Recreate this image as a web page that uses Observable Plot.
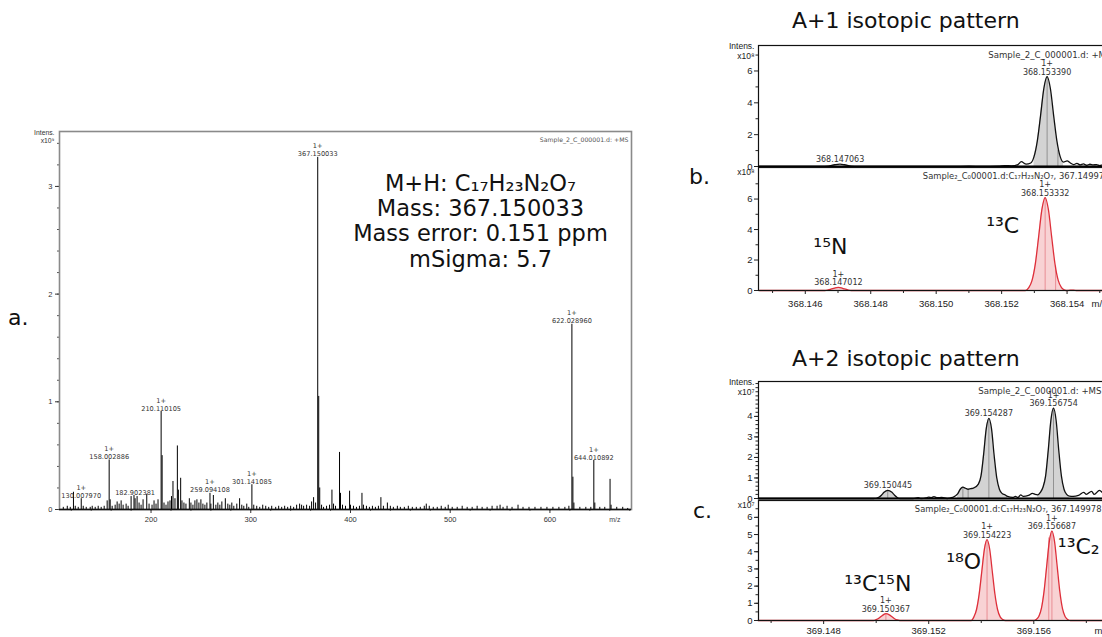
<!DOCTYPE html>
<html><head><meta charset="utf-8">
<script src="https://cdn.jsdelivr.net/npm/d3@7"></script>
<script src="https://cdn.jsdelivr.net/npm/@observablehq/plot@0.6"></script>
<style>
html,body{margin:0;padding:0;background:#fff;}
#root{position:relative;width:1102px;height:637px;overflow:hidden;}
.lbl{position:absolute;font-family:"DejaVu Sans",Verdana,sans-serif;color:#111;white-space:nowrap;line-height:1;}
</style></head><body><div id="root"></div>
<script>
// ---------- DATA ----------
// Panel a: full MS spectrum, [m/z, intensity x1e9]
const mainPeaks = [
[112,0.02],[116,0.03],[119,0.02],[122.2,0.16],[124,0.03],[127,0.02],[130.01,0.10],[132,0.03],[135,0.02],[139,0.02],[141,0.03],[144,0.02],[147,0.03],[150,0.02],[153,0.03],[156,0.08],[158.0,0.46],[159,0.09],[161,0.03],[164,0.04],[166,0.07],[168,0.05],[170,0.08],[172,0.04],[175,0.05],[177,0.03],[180,0.12],[182.9,0.13],[184,0.10],[186,0.12],[188,0.06],[190,0.04],[192,0.09],[195.7,0.14],[198,0.05],[201,0.04],[203,0.08],[205,0.05],[207,0.09],[210.11,0.91],[211.11,0.50],[213,0.06],[215,0.04],[217,0.07],[219,0.08],[220.5,0.12],[222,0.26],[224,0.10],[226.4,0.59],[227.4,0.18],[229.7,0.29],[231,0.08],[233,0.06],[235,0.05],[238.4,0.10],[240,0.06],[242,0.04],[244,0.08],[246,0.09],[248,0.06],[250,0.09],[252,0.05],[254,0.04],[256,0.06],[259.09,0.15],[260,0.05],[262.5,0.13],[265,0.04],[267,0.06],[269,0.04],[271,0.07],[274.5,0.10],[277,0.05],[279,0.04],[281,0.06],[283,0.03],[286,0.05],[288.8,0.10],[291,0.04],[293,0.03],[296,0.05],[298,0.02],[301.14,0.23],[303,0.04],[306,0.03],[309,0.02],[312,0.04],[315,0.03],[318,0.02],[321,0.03],[325,0.02],[328,0.03],[331,0.02],[334,0.03],[337,0.02],[340,0.03],[343,0.02],[346,0.04],[349,0.05],[351,0.04],[353,0.03],[356,0.04],[359,0.03],[361,0.07],[363,0.11],[365,0.06],[367.15,3.27],[368.15,1.05],[369.15,0.20],[371,0.04],[373,0.02],[376,0.03],[379,0.04],[381.4,0.18],[383,0.05],[385,0.03],[389.0,0.53],[390,0.15],[392,0.04],[395,0.03],[399.1,0.17],[400,0.04],[403,0.03],[406,0.02],[409,0.03],[411.5,0.15],[413,0.04],[416,0.03],[419,0.02],[422,0.03],[425,0.02],[428,0.03],[430.5,0.11],[433,0.03],[437,0.06],[440,0.03],[443,0.02],[447,0.03],[450,0.02],[454,0.02],[458,0.03],[462,0.02],[466,0.02],[470,0.02],[474,0.03],[476,0.05],[479,0.03],[483,0.02],[487,0.02],[491,0.03],[495,0.02],[498,0.04],[502,0.02],[507,0.02],[512,0.03],[517,0.02],[522,0.02],[527,0.03],[532,0.02],[537,0.02],[542,0.03],[547,0.03],[550,0.04],[553,0.02],[557,0.03],[562,0.02],[568,0.04],[573,0.02],[579,0.02],[585,0.02],[591,0.02],[597,0.02],[603,0.02],[609,0.02],[615,0.02],[619,0.03],[622.03,1.72],[623.03,0.30],[624.03,0.06],[630,0.02],[636,0.02],[641,0.02],[644.01,0.455],[645.01,0.06],[650,0.02],[655,0.02],[660.3,0.28],[661.3,0.04],[667,0.02],[673,0.02],[678,0.01]
];
// labelled peaks: [m/z, intensity, charge, label]
const mainLabels = [
[130.01,0.10,"1+","130.007970"],[158.0,0.46,"1+","158.002886"],[184.0,0.13,"","182.902381"],
[210.11,0.91,"1+","210.110105"],[259.09,0.15,"1+","259.094108"],[301.14,0.23,"1+","301.141085"],
[367.15,3.27,"1+","367.150033"],[622.03,1.72,"1+","622.028960"],[644.01,0.455,"1+","644.010892"]
];
const mainXTicks = [200,300,400,500,600];
const mainYTicks = [0,1,2,3];
const mainAnnotation = ["M+H: C₁₇H₂₃N₂O₇","Mass: 367.150033","Mass error: 0.151 ppm","mSigma: 5.7"];

// Panel b (A+1): measured (black) and simulated (red) profiles, intensity x1e8
const bTopTrace = [
[368.1446,0],[368.1465,0],[368.1467,0.03],[368.1469,0.11],[368.14706,0.15],[368.1472,0.11],[368.1474,0.03],[368.1476,0],[368.1505,0],[368.1510,0.02],[368.1514,0],[368.1519,0.02],[368.1521,0.06],[368.1523,0.04],[368.1525,0.12],[368.1526,0.3],[368.15275,0.15],[368.15289,0.22],[368.15299,0.62],[368.15309,1.6],[368.15319,3.2],[368.15329,4.9],[368.15339,5.65],[368.15349,4.9],[368.15359,3.2],[368.15369,1.6],[368.15379,0.62],[368.15389,0.28],[368.1540,0.35],[368.1541,0.22],[368.1542,0.12],[368.1543,0.2],[368.1544,0.1],[368.1545,0.16],[368.1546,0.08],[368.1547,0.14],[368.1548,0.1],[368.1549,0.12],[368.1550,0.06],[368.1551,0.1],[368.1553,0.05],[368.1555,0.08]
];
const bTopFill = [[368.1529,368.1539]];
const bTopLines = [[368.15339,5.65],[368.15372,1.0]];
const bBotTrace = [
[368.1446,0],[368.1466,0],[368.1467,0.04],[368.1468,0.1],[368.1469,0.16],[368.14701,0.2],[368.1471,0.17],[368.1472,0.1],[368.1473,0.04],[368.1474,0],[368.15273,0],[368.15283,0.19],[368.15293,0.66],[368.15303,1.75],[368.15313,3.5],[368.15323,5.3],[368.15333,6.1],[368.15343,5.3],[368.15353,3.5],[368.15363,1.75],[368.15373,0.66],[368.15383,0.19],[368.15393,0.03],[368.1540,0],[368.1541,0.03],[368.1542,0.03],[368.1543,0],[368.1556,0]
];
const bBotLines = [[368.15333,6.1],[368.15365,1.6]];
const bXTicks = [368.146,368.148,368.150,368.152,368.154];
const bYTicks = [0,2,4,6];

// Panel c (A+2): intensity x1e7
const cTopTrace = [
[369.1455,0],[369.1499,0],[369.1501,0.06],[369.1502,0.16],[369.1503,0.3],[369.15044,0.4],[369.1506,0.3],[369.1507,0.16],[369.1508,0.05],[369.1509,0],[369.1514,0],[369.1516,0.04],[369.1517,0],[369.1519,0.03],[369.1520,0.07],[369.1521,0.04],[369.1522,0.09],[369.1523,0.04],[369.1525,0.05],[369.1527,0],[369.1529,0.05],[369.1531,0.22],[369.1532,0.45],[369.1533,0.55],[369.1534,0.5],[369.1535,0.45],[369.1536,0.48],[369.1537,0.5],[369.15389,0.7],[369.15399,1.1],[369.15409,2.15],[369.15419,3.4],[369.15429,3.9],[369.15439,3.4],[369.15449,2.1],[369.15459,1.0],[369.15469,0.45],[369.15479,0.25],[369.1549,0.18],[369.1550,0.1],[369.1552,0.05],[369.1553,0.1],[369.1554,0.05],[369.1555,0.18],[369.1556,0.1],[369.1558,0.15],[369.15595,0.25],[369.15605,0.2],[369.15615,0.18],[369.15625,0.3],[369.15635,0.55],[369.15645,1.1],[369.15655,2.35],[369.15665,3.8],[369.15675,4.4],[369.15685,3.8],[369.15695,2.35],[369.15705,1.1],[369.15715,0.45],[369.15725,0.2],[369.15735,0.12],[369.1575,0.1],[369.1577,0.15],[369.1579,0.3],[369.1580,0.2],[369.1582,0.35],[369.1583,0.2],[369.1585,0.4],[369.1587,0.2],[369.1589,0.3],[369.1591,0.2]
];
const cTopFill = [[369.1500,369.1509],[369.1530,369.1550],[369.1561,369.1574]];
const cTopLines = [[369.15044,0.4],[369.1533,0.55],[369.1535,0.45],[369.15429,3.9],[369.15675,4.4]];
const cBotTrace = [
[369.1455,0],[369.1499,0],[369.1500,0.05],[369.1501,0.13],[369.1502,0.25],[369.1503,0.36],[369.15037,0.4],[369.1505,0.33],[369.1506,0.22],[369.1507,0.1],[369.1508,0.03],[369.1509,0],[369.15362,0],[369.15372,0.21],[369.15382,0.64],[369.15392,1.53],[369.15402,2.85],[369.15412,4.15],[369.15422,4.7],[369.15432,4.15],[369.15442,2.85],[369.15452,1.53],[369.15462,0.64],[369.15472,0.21],[369.15482,0.05],[369.15492,0],[369.15599,0],[369.15609,0.06],[369.15619,0.23],[369.15629,0.7],[369.15639,1.69],[369.15649,3.15],[369.15659,4.59],[369.15669,5.2],[369.15679,4.59],[369.15689,3.15],[369.15699,1.69],[369.15709,0.7],[369.15719,0.23],[369.15729,0.06],[369.15739,0],[369.1592,0]
];
const cBotLines = [[369.15037,0.4],[369.15422,4.7],[369.15657,4.8],[369.15669,5.2]];
const cXTicks = [369.148,369.152,369.156];
const cTopYTicks = [0,1,2,3,4];
const cBotYTicks = [0,1,2,3,4,5,6];

// peak labels in the isotope panels: [m/z, intensity, charge, label]
const bTopLabels = [[368.147063,0.15,"","368.147063"],[368.15339,5.65,"1+","368.153390"]];
const bBotLabels = [[368.147012,0.2,"1+","368.147012"],[368.15333,6.1,"1+","368.153332"]];
const cTopLabels = [[369.150445,0.4,"","369.150445"],[369.154287,3.9,"","369.154287"],[369.156754,4.4,"1+","369.156754"]];
const cBotLabels = [[369.150367,0.4,"1+","369.150367"],[369.154223,4.7,"1+","369.154223"],[369.156687,5.2,"1+","369.156687"]];
const sampleMS = "Sample_2_C_000001.d: +MS";
const sampleSim = "Sample₂_C₀00001.d:C₁₇H₂₃N₂O₇, 367.149978";

// ---------- HELPERS ----------
const toPts = a => a.map(([mz,i]) => ({mz, i}));
const toLbl = a => a.map(([mz,i,z,t]) => ({mz, i, txt: z ? z + "\n" + t : t}));
const root = document.getElementById("root");
function place(el, left, top){ el.style.position="absolute"; el.style.left=left+"px"; el.style.top=top+"px"; root.appendChild(el); }
function htmlText(txt, left, top, size){ const d=document.createElement("div"); d.className="lbl"; d.textContent=txt; d.style.left=left+"px"; d.style.top=top+"px"; d.style.fontSize=size+"px"; root.appendChild(d); }
const intFmt = d3.format("d");

// ---------- PANEL A ----------
const peaks = toPts(mainPeaks);
const mainPlot = Plot.plot({
  width: 660, height: 540,
  marginLeft: 59, marginRight: 29, marginTop: 131, marginBottom: 31,
  x: {domain: [108.2, 681.8]},
  y: {domain: [0, 3.51]},
  style: {background: "transparent", fontFamily: "'Liberation Sans', Arial, sans-serif", fontSize: "7.5px", color: "#333", overflow: "visible"},
  marks: [
    Plot.axisX({ticks: d3.range(120, 681, 20), tickSize: 2, tickFormat: () => "", label: null, stroke: "#555"}),
    Plot.axisX({ticks: mainXTicks, tickSize: 4, tickPadding: 3, label: null, stroke: "#333"}),
    Plot.axisY({ticks: d3.range(0, 3.51, 0.2), tickSize: 2, tickFormat: () => "", label: null, stroke: "#555"}),
    Plot.axisY({ticks: mainYTicks, tickSize: 4, tickPadding: 3, tickFormat: intFmt, label: null, stroke: "#333"}),
    Plot.frame({stroke: "#8a8a8a", strokeWidth: 1.6}),
    Plot.ruleX(peaks, {x: "mz", y1: 0, y2: "i", stroke: "#000", strokeWidth: 1}),
    Plot.ruleY([0], {stroke: "#111", strokeWidth: 1.3}),
    Plot.text(toLbl(mainLabels), {x: "mz", y: "i", text: "txt", lineAnchor: "bottom", dy: -1, lineHeight: 1.2, fontSize: 6.6, fontFamily: "DejaVu Sans", fill: "#333"}),
    Plot.text(["Intens.\nx10⁹"], {frameAnchor: "top-left", text: d => d, textAnchor: "end", lineAnchor: "top", dx: -5, dy: -2, fontSize: 6.8, lineHeight: 1.15, fill: "#333"}),
    Plot.text([sampleMS], {frameAnchor: "top-right", text: d => d, textAnchor: "end", dx: -3, dy: 6, fontSize: 6.2, fontFamily: "DejaVu Sans", fill: "#555"}),
    Plot.text(["m/z"], {frameAnchor: "bottom-right", text: d => d, dx: -11, dy: 12, fontSize: 7, fill: "#444"}),
    Plot.text([mainAnnotation.join("\n")], {frameAnchor: "top-left", text: d => d, dx: 421, dy: 41, textAnchor: "middle", lineAnchor: "top", fontSize: 22.5, lineHeight: 1.13, fontFamily: "DejaVu Sans", fill: "#111"})
  ]
});
place(mainPlot, 0, 0);

// ---------- ISOTOPE PANELS ----------
function panel(o){
  const pts = toPts(o.trace);
  const marks = [];
  for (const [a,b] of o.fills) marks.push(Plot.areaY(pts.filter(d => d.mz >= a && d.mz <= b), {x: "mz", y: "i", fill: o.fill, curve: "monotone-x"}));
  marks.push(Plot.ruleX(toPts(o.lines), {x: "mz", y1: 0, y2: "i", stroke: o.lineMark, strokeWidth: 0.9}));
  marks.push(Plot.lineY(pts, {x: "mz", y: "i", stroke: o.stroke, strokeWidth: 1.3, curve: "monotone-x"}));
  marks.push(Plot.frame({stroke: "#111", strokeWidth: 1.2}));
  marks.push(Plot.axisY({ticks: o.yMinor, tickSize: 2.5, tickFormat: () => "", label: null}));
  marks.push(Plot.axisY({ticks: o.yTicks, tickSize: 4, tickPadding: 2, tickFormat: intFmt, label: null}));
  if (o.xTicks) {
    marks.push(Plot.axisX({ticks: o.xMinor, tickSize: 3, tickFormat: () => "", label: null}));
    marks.push(Plot.axisX({ticks: o.xTicks, tickSize: 4, tickPadding: o.xPad, tickFormat: d3.format(".3f"), label: null}));
    marks.push(Plot.text(["m/z"], {frameAnchor: "bottom-right", text: d => d, textAnchor: "start", dx: o.mzDx, dy: o.xPad + 10, fontSize: 9.5}));
  }
  if (o.baseRule) marks.push(Plot.ruleY([0], {stroke: "#000", strokeWidth: 2.2}));
  marks.push(Plot.text(toLbl(o.labels), {x: "mz", y: "i", text: "txt", lineAnchor: "bottom", dy: -2, lineHeight: 1.05, fontSize: 8, fontFamily: "DejaVu Sans", fill: "#333"}));
  marks.push(Plot.text([o.sample], {frameAnchor: "top-right", text: d => d, textAnchor: "end", dx: o.sampleDx, dy: 6, fontSize: o.sampleSize, fontFamily: "DejaVu Sans", fill: "#333"}));
  marks.push(Plot.text([o.yLabel], {frameAnchor: "top-left", text: d => d, textAnchor: "end", lineAnchor: "top", dx: -4, dy: o.yLabelDy, fontSize: 8.5, lineHeight: 1.2, fill: "#222"}));
  if (o.extra) marks.push(...o.extra);
  const p = Plot.plot({
    width: 430, height: o.height, marginLeft: 58, marginRight: 15, marginTop: o.mt, marginBottom: o.mb,
    x: {domain: o.xDomain, axis: o.xTicks ? undefined : null}, y: {domain: o.yDomain},
    style: {background: "transparent", fontFamily: "'Liberation Sans', Arial, sans-serif", fontSize: "9.5px", color: "#222", overflow: "visible"},
    marks
  });
  place(p, 700, o.top);
}
const iso = (txt, mz, i, anchor, dx, dy) => Plot.text([{mz, i}], {x: "mz", y: "i", text: () => txt, textAnchor: anchor, dx, dy, fontSize: 22, fontFamily: "DejaVu Sans", fill: "#111"});

const bDomain = [368.14457, 368.15548];
const cDomain = [369.14552, 369.15911];
const grayFill = "#d3d3d3", pinkFill = "#f8d2d4", red = "#de2f3a";

panel({top: 0, height: 170, mt: 45, mb: 4, trace: bTopTrace, fills: bTopFill, lines: bTopLines, xDomain: bDomain, yDomain: [0, 7.6],
  yTicks: bYTicks, yMinor: [1,3,5,7], stroke: "#111", fill: grayFill, lineMark: "#8a8a8a", baseRule: true,
  labels: bTopLabels, sample: sampleMS, sampleDx: -4, sampleSize: 8.6, yLabel: "Intens.\nx10⁸", yLabelDy: -4});
panel({top: 150, height: 170, mt: 17, mb: 30, trace: bBotTrace, fills: [[368.1446, 368.1556]], lines: bBotLines, xDomain: bDomain, yDomain: [0, 8.07],
  yTicks: bYTicks, yMinor: [1,3,5,7], stroke: red, fill: pinkFill, lineMark: "#e7868d",
  xTicks: bXTicks, xMinor: [368.145,368.147,368.149,368.151,368.153,368.155], mzDx: -24, xPad: 6,
  labels: bBotLabels, sample: sampleSim, sampleDx: -6, sampleSize: 8.4, yLabel: "x10⁸", yLabelDy: 0,
  extra: [iso("¹⁵N", 368.147012, 0.2, "middle", -8, -40), iso("¹³C", 368.153332, 6.1, "end", -26, 28)]});
panel({top: 340, height: 162, mt: 41, mb: 4, trace: cTopTrace, fills: cTopFill, lines: cTopLines, xDomain: cDomain, yDomain: [0, 5.7],
  yTicks: cTopYTicks, yMinor: d3.range(0, 5.7, 0.2), stroke: "#111", fill: grayFill, lineMark: "#8a8a8a", baseRule: true,
  labels: cTopLabels, sample: sampleMS, sampleDx: -14, sampleSize: 8.6, yLabel: "Intens.\nx10⁷", yLabelDy: -4});
panel({top: 480, height: 157, mt: 20, mb: 17, trace: cBotTrace, fills: [[369.1455, 369.1592]], lines: cBotLines, xDomain: cDomain, yDomain: [0, 6.98],
  yTicks: cBotYTicks, yMinor: d3.range(0, 7, 0.5), stroke: red, fill: pinkFill, lineMark: "#e7868d",
  xTicks: cXTicks, xMinor: [369.146,369.150,369.154,369.158], mzDx: -21, xPad: 3,
  labels: cBotLabels, sample: sampleSim, sampleDx: -14, sampleSize: 8.4, yLabel: "x10⁷", yLabelDy: 0,
  extra: [iso("¹³C¹⁵N", 369.150367, 0.4, "middle", -8, -30), iso("¹⁸O", 369.154223, 4.7, "end", -6, 22), iso("¹³C₂", 369.156687, 5.2, "start", 6, 16)]});

// ---------- PANEL LETTERS & TITLES ----------
htmlText("a.", 8, 307, 22);
htmlText("b.", 689, 166, 22);
htmlText("c.", 693, 500, 22);
htmlText("A+1 isotopic pattern", 792, 10, 22);
htmlText("A+2 isotopic pattern", 792, 348, 22);
</script></body></html>
